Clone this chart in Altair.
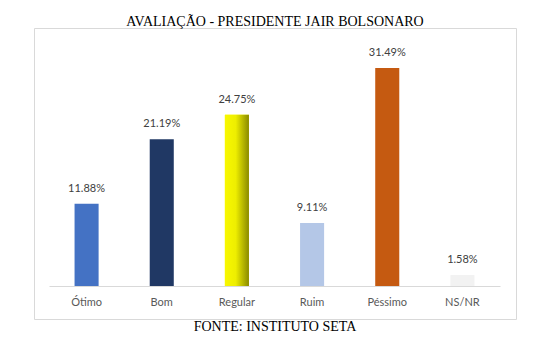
import altair as alt
import pandas as pd

categories = ["Ótimo", "Bom", "Regular", "Ruim", "Péssimo", "NS/NR"]
values = [11.88, 21.19, 24.75, 9.11, 31.49, 1.58]
colors = ["#4472C4", "#203864", "#FFFF00", "#B4C7E7", "#C55A11", "#F2F2F2"]

df = pd.DataFrame({"cat": categories, "val": values})
df["label"] = [f"{v:.2f}%" for v in values]

x = alt.X("cat:N", sort=categories,
          scale=alt.Scale(range=[15, 466], paddingInner=0.68, paddingOuter=0.34),
          axis=alt.Axis(title="FONTE: INSTITUTO SETA", orient="bottom", offset=-33,
                        labelAngle=0, labelFont="Lato", labelFontSize=11, labelColor="#595959",
                        labelPadding=10, ticks=False, domainColor="#D9D9D9", domainWidth=1,
                        titleFont="Liberation Serif", titleFontSize=14, titleFontWeight="normal",
                        titleColor="#000000", titlePadding=12))
y = alt.Y("val:Q", scale=alt.Scale(domain=[0, 37.28], range=[258, 0]), axis=None)

base = alt.Chart(df)

bars = base.mark_bar().encode(
    x=x, y=y,
    color=alt.Color("cat:N", scale=alt.Scale(domain=categories, range=colors), legend=None),
)

grad = alt.Gradient(gradient="linear", x1=0, x2=1, y1=0, y2=0,
                    stops=[alt.GradientStop(color="#F8F800", offset=0),
                           alt.GradientStop(color="#EEEE00", offset=0.45),
                           alt.GradientStop(color="#8A8A00", offset=1)])
regular = base.transform_filter(alt.datum.cat == "Regular").mark_bar(color=grad).encode(x=x, y=y)

labels = base.mark_text(dy=-10, baseline="bottom", font="Lato", fontSize=11, color="#404040").encode(
    x=x, y=y, text="label:N")

chart = alt.layer(bars, regular, labels).properties(
    width=482, height=291,
    title=alt.TitleParams("AVALIAÇÃO - PRESIDENTE JAIR BOLSONARO", font="Liberation Serif",
                          fontSize=14, fontWeight="normal", color="#000000", offset=-1, anchor="middle"),
    autosize=alt.AutoSizeParams(type="none"),
    padding={"left": 26, "top": 20, "right": 10, "bottom": 30},
).configure_view(stroke="#D9D9D9", strokeWidth=1)

chart.save("out.html", embed_options={"renderer": "svg", "actions": False})
